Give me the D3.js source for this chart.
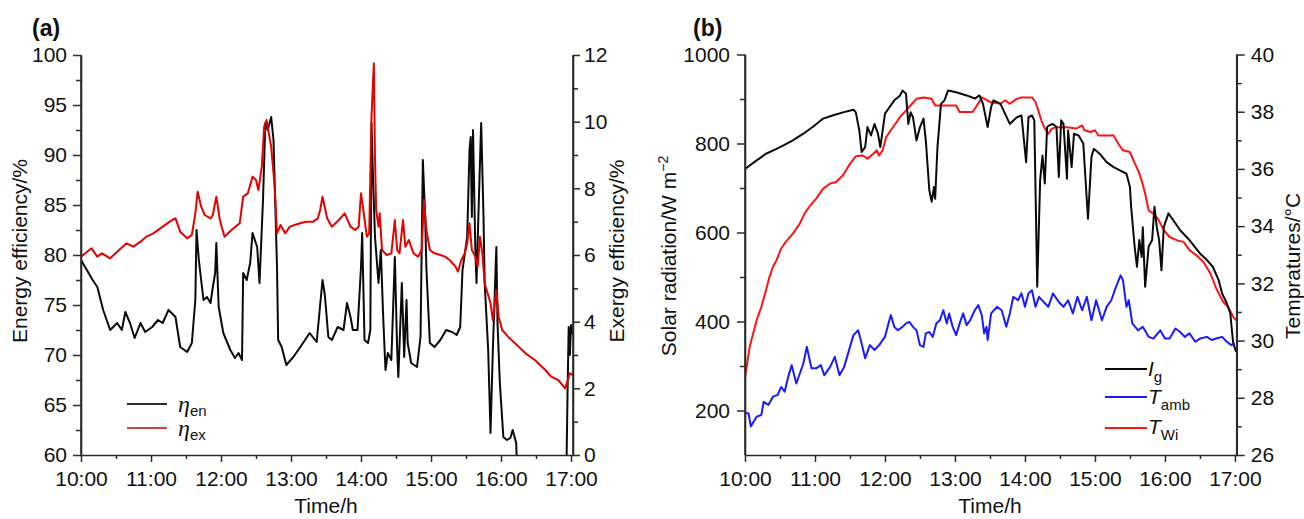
<!DOCTYPE html>
<html><head><meta charset="utf-8">
<script src="https://cdn.jsdelivr.net/npm/d3@7"></script>
<style>
body{margin:0;background:#fff}
text{font-family:"Liberation Sans",Arial,Helvetica,sans-serif;fill:#111}
</style>
</head><body>
<svg id="c" width="1304" height="519"></svg>
<script>
// ---------- data (time in minutes after 10:00) ----------
const timeLabels = ["10:00","11:00","12:00","13:00","14:00","15:00","16:00","17:00"];
const majorTimes = [0,60,120,180,240,300,360,420];
const minorTimes = [30,90,150,210,270,330,390];

// panel (a) energy efficiency (%)
const enTime = [0,10,14,19,25,31,35,38,42,46,51,55,61,66,70,75,81,85,91,95,98,99,101,105,108,111,113,115,116,118,122,128,132,135,138,139,142,145,147,151,153,156,158,160,163,165,168,169,172,176,182,188,196,202,207,209,212,215,220,225,228,231,233,237,240,241,243,246,248,249,250,252,255,257,259,261,263,266,269,271,272,275,277,279,280,283,288,291,293,295,296,299,303,308,313,318,322,325,327,331,333,334,335,336,338,339,341,343,345,346,349,351,353,356,357,359,362,365,368,370,373,374,376,414,416,417,418,419,420,421.7];
const enValue = [79.5,77.5,76.8,74.5,72.5,73.2,72.5,74.3,73.2,71.7,73.2,72.3,72.8,73.5,73.2,74.5,73.8,70.8,70.3,71.2,75.5,82.5,79.5,75.5,75.8,75.2,76.8,78.2,81.2,74.8,72.2,70.5,69.7,70.2,69.5,78.2,77.5,79.2,82.2,80.8,77.2,85.5,93.2,92.5,93.8,91.5,78.8,71.5,70.8,69,69.8,70.8,72.2,71.3,77.5,76,71.8,71.5,72.8,72.5,75.2,73.8,72.5,72.5,78.8,82.2,71.5,71.2,72.5,93.2,88.8,81.8,77.2,80.5,73.8,68.5,70.2,69.5,79.8,70.5,67.8,77.2,69.8,75.5,71.2,69.2,68.8,71.8,89.5,83.8,78.8,71.2,70.8,71.5,72.5,72.3,72.0,72.8,78.5,81.8,90.5,91.8,83.8,92.5,80.5,77.2,85.5,93.2,83.8,77.2,70.5,62.2,70.5,80.8,73.2,67.2,61.8,61.5,61.7,62.5,61.2,58,55,55,58,66,72.8,70,73,72];

// panel (a) exergy efficiency (%)
const exTime = [0,9,14,18,25,31,39,45,51,56,62,68,74,78,81,85,91,95,98,100,103,106,111,113,116,119,123,129,136,139,143,147,150,152,155,157,159,161,163,166,168,171,175,179,183,188,193,199,203,205,207,211,215,221,226,231,235,238,240,242,245,247,249,251,252,253,255,256,258,262,266,269,271,273,276,278,281,285,289,292,294,296,299,303,308,312,316,321,323,326,329,331,333,335,338,340,342,344,346,351,353,356,358,361,366,372,381,389,398,403,409,415,419,421.7];
const exValue = [5.95,6.2,5.95,6.05,5.9,6.1,6.35,6.25,6.4,6.55,6.65,6.8,6.95,7.05,7.1,6.7,6.5,6.6,7.25,7.9,7.45,7.2,7.1,7.2,7.75,7.05,6.55,6.75,6.95,7.75,7.85,8.35,8.25,7.95,8.65,9.85,10.05,9.65,9.25,8.05,6.65,6.9,6.65,6.85,6.9,6.95,7.0,7.0,7.1,7.35,7.75,7.1,6.85,7.05,7.25,6.85,6.75,6.85,7.85,7.35,6.55,6.65,10.15,11.75,8.85,7.35,6.85,7.25,6.15,6.0,6.05,7.05,6.15,6.05,7.05,6.25,6.45,6.05,5.95,6.15,7.65,6.75,6.15,6.05,6.0,5.95,5.85,5.65,5.5,5.85,6.05,6.35,6.95,6.15,5.95,5.65,6.55,6.05,5.15,4.55,4.05,4.95,4.15,3.75,3.55,3.35,3.05,2.85,2.55,2.35,2.25,2.0,2.45,2.4];

// panel (b) solar radiation I_g (W m^-2)
const igTime = [0,10,18,27,33,41,50,58,67,75,84,93,95,98,100,103,105,108,111,114,116,118,120,124,128,133,135,138,140,142,144,147,150,153,155,158,160,162,163,165,168,171,174,181,190,197,201,204,208,211,213,219,227,233,237,241,243,246,248,250.5,253,255,257,259,261,264,267,269,271,273,276,277,280,282,286,290,294,297,299,304,310,316,321,327,330,331,334,336,338,340,341,343,346,349,351,353,355,357,359,363,367,373,381,390,396,401,406,409,413,416,418.5,421];
const igValue = [743,762,777,788,796,807,822,837,856,863,870,876,870,829,781,792,837,818,844,822,792,829,867,882,897,908,919,912,844,870,859,807,837,856,807,695,669,702,676,792,889,897,919,915,908,901,908,889,837,882,897,889,844,859,863,758,859,863,852,478,717,773,710,837,841,844,837,725,852,844,721,829,747,822,818,800,631,770,788,777,758,747,740,732,702,658,568,523,583,545,612,478,568,583,658,612,583,515,612,643,628,605,583,553,538,523,493,463,441,418,351,332];

// panel (b) ambient temperature T_amb (°C)
const tambTime = [0,3,5,10,14,16,20,24,28,31,34,37,40,44,47,50,53,57,61,65,68,73,77,81,85,90,93,97,100,103,107,111,115,120,123,125,128,131,135,138,141,144,147,150,153,155,158,161,164,167,170,173,175,178,181,184,187,190,193,197,200,203,205,207,208,211,216,220,224,227,230,234,237,240,243,246,249,252,256,260,264,269,273,277,281,285,289,293,297,301,306,310,314,318,322,324,327,329,332,337,341,346,350,356,360,364,369,373,377,381,386,390,396,400,404,409,413,417,420];
const tambValue = [27.46,27.46,27.0,27.34,27.4,27.86,27.75,28.04,28.1,28.38,28.21,28.73,29.14,28.5,28.85,29.2,29.78,29.03,29.03,29.14,28.79,29.08,29.43,28.79,29.08,29.78,30.19,30.36,29.9,29.38,29.84,29.67,29.84,30.13,30.6,30.89,30.48,30.36,30.48,30.6,30.65,30.48,30.36,29.84,29.78,30.25,30.3,30.13,30.6,30.71,31.06,30.6,30.95,30.48,30.19,30.6,30.95,30.54,30.71,31.06,31.24,30.89,30.25,30.48,30.02,30.95,31.18,31.06,30.48,30.95,31.53,31.41,31.65,31.18,31.65,31.76,31.18,31.53,31.35,31.18,31.65,31.35,31.18,31.41,30.95,31.53,31.06,31.53,30.71,31.41,30.71,31.18,31.41,31.88,32.28,32.11,31.18,31.41,30.6,30.36,30.48,30.13,30.07,30.36,30.07,30.07,30.42,30.3,30.13,30.25,29.96,30.07,30.13,30.02,30.07,30.13,29.96,29.84,29.9];

// panel (b) inlet water temperature T_Wi (°C)
const twiTime = [0,4,7,10,14,18,21,24,27,31,35,41,47,51,55,61,67,73,78,84,90,95,101,105,110,113,115,118,121,125,130,134,138,143,147,153,160,163,170,181,184,195,198,203,210,219,223,227,233,237,246,249,251,254,257,260,263,267,276,284,289,291,296,300,303,316,320,324,330,333,337,340,343,346,350,354,359,364,370,376,381,387,393,399,404,410,414,418.5,421];
const twiValue = [28.7,29.78,30.25,30.71,31.18,31.76,32.23,32.58,32.81,33.22,33.45,33.74,34.09,34.44,34.67,34.96,35.31,35.49,35.54,35.78,36.18,36.44,36.47,36.36,36.53,36.65,36.47,36.65,37.11,37.35,37.64,37.87,38.04,38.27,38.45,38.5,38.45,38.22,38.22,38.22,37.99,37.99,38.16,38.5,38.34,38.28,38.4,38.28,38.45,38.5,38.5,38.34,38.1,37.7,37.41,37.23,37.41,37.46,37.46,37.41,37.52,37.35,37.29,37.35,37.17,37.17,36.88,36.65,36.59,36.3,35.95,35.6,35.14,34.55,34.44,34.26,33.86,33.62,33.51,33.45,33.16,32.98,32.75,32.34,31.82,31.35,31.18,30.83,30.71];

// ---------- drawing ----------
const svg = d3.select("#c");
const AX = "#2a2a2a";
const FS = 21;

function zip(t, v){ return t.map((d,i)=>[d, v[i]]); }

function styleAxis(g){
  g.selectAll("path.domain").attr("stroke", AX).attr("stroke-width", 1.6);
  g.selectAll(".tick line").attr("stroke", AX).attr("stroke-width", 1.5);
  g.selectAll(".tick text").style("font-size", FS + "px").attr("fill", "#111")
    .style("font-family", '"Liberation Sans", Arial, sans-serif');
}

function panel(cfg){
  const x = d3.scaleLinear().domain([0, cfg.xEnd]).range([cfg.x0, cfg.x1]);
  const yL = d3.scaleLinear().domain(cfg.yLDomain).range([cfg.yBottom, cfg.yTop]);
  const yR = d3.scaleLinear().domain(cfg.yRDomain).range([cfg.yBottom, cfg.yTop]);

  const clipId = "clip" + cfg.id;
  svg.append("clipPath").attr("id", clipId).append("rect")
    .attr("x", cfg.x0).attr("y", cfg.yTop - 20).attr("width", cfg.x1 - cfg.x0).attr("height", cfg.yBottom - cfg.yTop + 20);

  // minor ticks
  const gxm = svg.append("g").attr("transform", `translate(0,${cfg.yBottom})`)
    .call(d3.axisBottom(x).tickValues(minorTimes).tickSize(4).tickSizeOuter(0).tickFormat(""));
  gxm.select("path.domain").remove(); styleAxis(gxm);
  const gylm = svg.append("g").attr("transform", `translate(${cfg.x0},0)`)
    .call(d3.axisLeft(yL).tickValues(cfg.yLMinor).tickSize(5).tickSizeOuter(0).tickFormat(""));
  gylm.select("path.domain").remove(); styleAxis(gylm);
  const gyrm = svg.append("g").attr("transform", `translate(${cfg.x1},0)`)
    .call(d3.axisRight(yR).tickValues(cfg.yRMinor).tickSize(5).tickSizeOuter(0).tickFormat(""));
  gyrm.select("path.domain").remove(); styleAxis(gyrm);

  // series
  const gl = svg.append("g").attr("clip-path", `url(#${clipId})`);
  cfg.series.forEach(s => {
    const y = s.axis === "L" ? yL : yR;
    gl.append("path").datum(zip(s.t, s.v))
      .attr("fill", "none").attr("stroke", s.color).attr("stroke-width", 2)
      .attr("stroke-linejoin", "round")
      .attr("d", d3.line().x(d => x(d[0])).y(d => y(d[1])));
  });

  // major axes
  const gx = svg.append("g").attr("transform", `translate(0,${cfg.yBottom})`)
    .call(d3.axisBottom(x).tickValues(majorTimes).tickSize(7).tickSizeOuter(0).tickPadding(9)
      .tickFormat((d,i) => timeLabels[i]));
  styleAxis(gx);
  const gyl = svg.append("g").attr("transform", `translate(${cfg.x0},0)`)
    .call(d3.axisLeft(yL).tickValues(cfg.yLTicks).tickSize(8).tickSizeOuter(0).tickPadding(cfg.padL)
      .tickFormat(d3.format("d")));
  styleAxis(gyl);
  const gyr = svg.append("g").attr("transform", `translate(${cfg.x1},0)`)
    .call(d3.axisRight(yR).tickValues(cfg.yRTicks).tickSize(cfg.tickR).tickSizeOuter(0).tickPadding(cfg.padR)
      .tickFormat(d3.format("d")));
  styleAxis(gyr);
  [cfg.x0, cfg.x1].forEach(xx => svg.append("line").attr("x1", xx).attr("x2", xx)
    .attr("y1", cfg.yTop).attr("y2", cfg.yBottom).attr("stroke", AX).attr("stroke-width", 1.6));
  return {x, yL, yR};
}

// panel (a)
panel({
  id: "a", x0: 81, x1: 573, xEnd: 421.7, yTop: 55, yBottom: 455,
  yLDomain: [60, 100], yLTicks: d3.range(60, 101, 5), yLMinor: d3.range(62.5, 100, 5),
  yRDomain: [0, 12], yRTicks: d3.range(0, 13, 2), yRMinor: d3.range(1, 12, 2),
  padL: 6, padR: 4, tickR: 7,
  series: [
    {t: enTime, v: enValue, axis: "L", color: "#0a0a0a"},
    {t: exTime, v: exValue, axis: "R", color: "#e60000"}
  ]
});

// panel (b)
panel({
  id: "b", x0: 745, x1: 1236.7, xEnd: 421.5, yTop: 54.5, yBottom: 455,
  yLDomain: [100, 1000], yLTicks: d3.range(200, 1001, 200), yLMinor: d3.range(300, 1000, 200),
  yRDomain: [26, 40], yRTicks: d3.range(26, 41, 2), yRMinor: d3.range(27, 40, 2),
  padL: 7, padR: 6, tickR: 8,
  series: [
    {t: twiTime, v: twiValue, axis: "R", color: "#ff1414"},
    {t: igTime, v: igValue, axis: "L", color: "#0a0a0a"},
    {t: tambTime, v: tambValue, axis: "R", color: "#1a1aff"}
  ]
});

// panel letters
svg.append("text").attr("x", 32).attr("y", 36).style("font-size", "23px").style("font-weight", "bold").text("(a)");
svg.append("text").attr("x", 693).attr("y", 36).style("font-size", "23px").style("font-weight", "bold").text("(b)");

// axis titles
function vtitle(x, y, txt){
  return svg.append("text").attr("transform", `translate(${x},${y}) rotate(-90)`)
    .attr("text-anchor", "middle").style("font-size", FS + "px").text(txt);
}
vtitle(27, 251, "Energy efficiency/%");
vtitle(624, 251, "Exergy efficiency/%");
const sr = vtitle(676, 256, "Solar radiation/W m");
sr.append("tspan").attr("dy", -8).style("font-size", "14px").text("−2");
vtitle(1300, 266, "Tempratures/°C");
svg.append("text").attr("x", 326).attr("y", 513).attr("text-anchor", "middle").style("font-size", FS + "px").text("Time/h");
svg.append("text").attr("x", 990).attr("y", 513).attr("text-anchor", "middle").style("font-size", FS + "px").text("Time/h");

// legend (a)
const legA = [
  {y: 404, color: "#2b2b2b", sub: "en", base: 412},
  {y: 428, color: "#cc4444", sub: "ex", base: 436}
];
legA.forEach(l => {
  svg.append("line").attr("x1", 127).attr("x2", 167).attr("y1", l.y).attr("y2", l.y)
    .attr("stroke", l.color).attr("stroke-width", 2);
  const t = svg.append("text").attr("x", 178).attr("y", l.base);
  t.append("tspan").style("font-family", '"Liberation Serif", "Times New Roman", serif')
    .style("font-style", "italic").style("font-size", "24px").text("η");
  t.append("tspan").attr("dy", 4).style("font-size", "15px").text(l.sub);
});

// legend (b)
const legB = [
  {y: 369, color: "#0a0a0a", main: "I", sub: "g", base: 376},
  {y: 397, color: "#1a1aff", main: "T", sub: "amb", base: 404},
  {y: 428, color: "#ff1414", main: "T", sub: "Wi", base: 434}
];
legB.forEach(l => {
  svg.append("line").attr("x1", 1105).attr("x2", 1147).attr("y1", l.y).attr("y2", l.y)
    .attr("stroke", l.color).attr("stroke-width", 2);
  const t = svg.append("text").attr("x", 1148).attr("y", l.base);
  t.append("tspan").style("font-style", "italic").style("font-size", "21px").text(l.main);
  t.append("tspan").attr("dy", 6).style("font-size", "15px").text(l.sub);
});
</script>
</body></html>
